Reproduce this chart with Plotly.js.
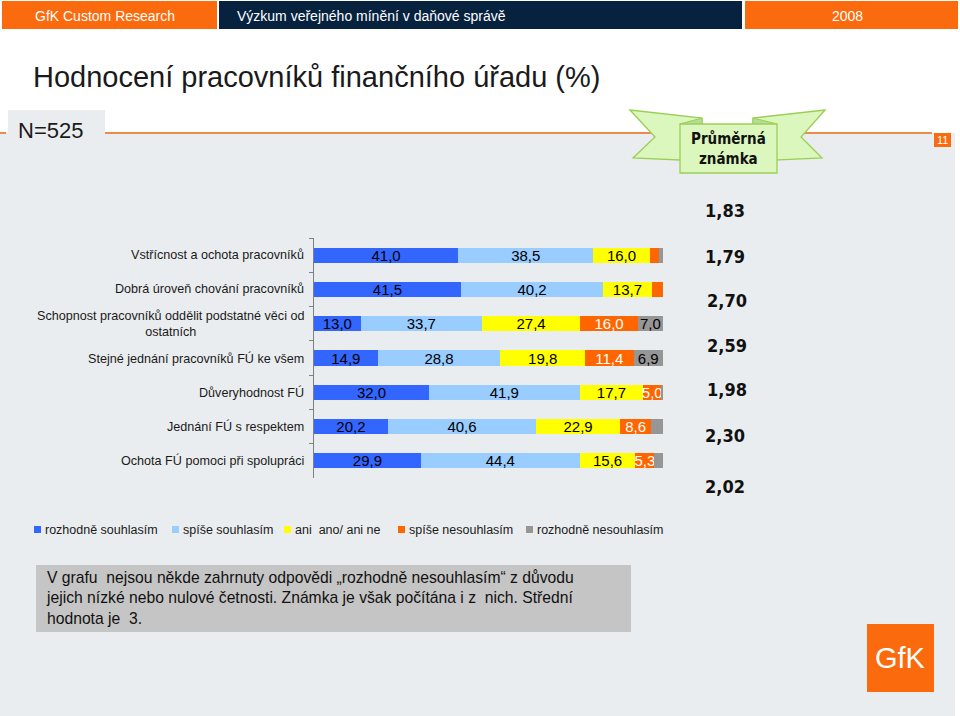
<!DOCTYPE html>
<html>
<head>
<meta charset="utf-8">
<script src="https://cdn.plot.ly/plotly-3.0.1.min.js"></script>
<style>
  html, body { margin: 0; padding: 0; background: #ffffff; }
  #chart { width: 960px; height: 716px; }
</style>
</head>
<body>
<div id="chart"></div>
<script>
// ---------------- DATA ----------------
const categories = [
  'Vstřícnost a ochota pracovníků',
  'Dobrá úroveň chování pracovníků',
  'Schopnost pracovníků oddělit podstatné věci od<br>ostatních',
  'Stejné jednání pracovníků FÚ ke všem',
  'Důveryhodnost FÚ',
  'Jednání FÚ s respektem',
  'Ochota FÚ pomoci při spolupráci'
];
const seriesNames = ['rozhodně souhlasím', 'spíše souhlasím', 'ani  ano/ ani ne', 'spíše nesouhlasím', 'rozhodně nesouhlasím'];
const rozhodneSouhlasim   = [41.0, 41.5, 13.0, 14.9, 32.0, 20.2, 29.9];
const spiseSouhlasim      = [38.5, 40.2, 33.7, 28.8, 41.9, 40.6, 44.4];
const aniAnoAniNe         = [16.0, 13.7, 27.4, 19.8, 17.7, 22.9, 15.6];
const spiseNesouhlasim    = [2.7, 3.2, 16.0, 11.4, 5.0, 8.6, 5.3];
const rozhodneNesouhlasim = [1.1, 0.0, 7.0, 6.9, 0.5, 3.2, 2.4];
const prumernaZnamka = ['1,83', '1,79', '2,70', '2,59', '1,98', '2,30', '2,02'];

// ---------------- STYLE / LAYOUT ----------------
const seriesValues = [rozhodneSouhlasim, spiseSouhlasim, aniAnoAniNe, spiseNesouhlasim, rozhodneNesouhlasim];
const seriesColors = ['#3366ff', '#99ccff', '#ffff00', '#ff6600', '#969696'];
const labelColors  = ['#000000', '#000000', '#000000', '#ffffff', '#000000'];
const FONT = 'Liberation Sans, Arial, sans-serif';
const BOLD = 'DejaVu Sans Condensed, DejaVu Sans, sans-serif';

// plot area in pixels
const L = 314, R = 663, T = 238, B = 478;
const W = R - L, H = B - T;
const px = x => (x - L) / W;
const py = y => (B - y) / H;

function rect(x0, y0, x1, y1, fill, line) {
  return { type: 'rect', xref: 'paper', yref: 'paper', layer: 'below',
    x0: px(x0), x1: px(x1), y0: py(y1), y1: py(y0),
    fillcolor: fill, line: line || { width: 0 } };
}
function poly(pts, fill, line) {
  const d = pts.map((p, i) => (i ? 'L' : 'M') + px(p[0]).toFixed(5) + ',' + py(p[1]).toFixed(5)).join(' ') + ' Z';
  return { type: 'path', xref: 'paper', yref: 'paper', layer: 'below', path: d,
    fillcolor: fill, line: line || { width: 0 } };
}
function text(x, y, t, size, color, opts) {
  return Object.assign({ xref: 'paper', yref: 'paper', x: px(x), y: py(y), text: t,
    showarrow: false, xanchor: 'left', yanchor: 'middle',
    font: { family: FONT, size: size, color: color } }, opts || {});
}

// traces
const traces = seriesValues.map((vals, i) => ({
  type: 'bar', orientation: 'h', name: seriesNames[i],
  y: categories, x: vals,
  marker: { color: seriesColors[i], line: { width: 0 } },
  text: vals.map(v => v >= 4 ? v.toFixed(1).replace('.', ',') : ''),
  textposition: 'inside', insidetextanchor: 'middle', constraintext: 'none',
  textfont: { family: FONT, size: 15, color: labelColors[i] },
  hoverinfo: 'name+x'
}));

// shapes
const green = '#dcf7bd', greenLine = '#9acf55', greenDark = '#b7dc98';
const shapes = [
  rect(2, 1, 217, 29, '#fb6a0c'),
  rect(219, 1, 742, 29, '#06223f'),
  rect(745, 1, 958, 29, '#fb6a0c'),
  rect(0, 133, 955, 716, '#eaedef'),
  rect(8, 110, 105, 133, '#eaedef'),
  { type: 'line', xref: 'paper', yref: 'paper', layer: 'below', x0: px(105), x1: px(932), y0: py(133), y1: py(133), line: { color: '#f0894c', width: 2 } },
  { type: 'line', xref: 'paper', yref: 'paper', layer: 'below', x0: px(0), x1: px(6), y0: py(133), y1: py(133), line: { color: '#f0894c', width: 2 } },
  rect(934, 133, 951, 147, '#fb6a0c'),
  // ribbon tails
  poly([[630, 110], [702, 118], [702, 161], [633, 158], [655, 137]], green, { color: greenLine, width: 1.3 }),
  poly([[825, 110], [753, 118], [753, 161], [822, 158], [801, 137]], green, { color: greenLine, width: 1.3 }),
  poly([[680, 124], [702, 118], [702, 128]], greenDark, { color: greenLine, width: 1 }),
  poly([[777, 124], [753, 118], [753, 128]], greenDark, { color: greenLine, width: 1 }),
  rect(680, 124, 777, 173, green, { color: greenLine, width: 1.3 }),
  // note box
  rect(36, 565, 631, 632, '#c5c5c5'),
  // GfK logo
  rect(867, 624, 934, 692, '#fb6a0c')
];

// annotations
const annotations = [
  text(33, 16, 'GfK Custom Research', 14, '#ffffff'),
  text(235, 16, 'Výzkum veřejného mínění v daňové správě', 14, '#ffffff'),
  text(847, 16, '2008', 14, '#ffffff', { xanchor: 'center' }),
  text(31, 77, 'Hodnocení pracovníků finančního úřadu (%)', 29, '#1a1a1a'),
  text(16, 130, 'N=525', 22, '#1a1a1a'),
  text(942.5, 140, '11', 11, '#ffffff', { xanchor: 'center' }),
  text(728.5, 149, 'Průměrná<br>známka', 15, '#111111',
    { xanchor: 'center', align: 'center', font: { family: BOLD, size: 15, color: '#111111', weight: 'bold' } }),
  text(900, 658, 'GfK', 29, '#ffffff', { xanchor: 'center' }),
  text(44, 598, 'V grafu  nejsou někde zahrnuty odpovědi „rozhodně nesouhlasím“ z důvodu<br>jejich nízké nebo nulové četnosti. Známka je však počítána i z  nich. Střední<br>hodnota je  3.',
    15.7, '#111111', { align: 'left' })
];
// category labels (centered multi-line, right anchored)
categories.forEach(c => annotations.push({
  xref: 'paper', yref: 'y', x: px(306), y: c, text: c, showarrow: false,
  xanchor: 'right', yanchor: 'middle', align: 'center',
  font: { family: FONT, size: 12.6, color: '#1a1a1a' }
}));
// average grades
const gradeY = [210, 256, 300, 345, 389, 435, 486];
const gradeX = [725, 725, 727, 727, 727, 725, 725];
prumernaZnamka.forEach((g, i) => annotations.push(
  text(gradeX[i], gradeY[i], g, 18, '#111111',
    { xanchor: 'center', font: { family: BOLD, size: 18, color: '#111111', weight: 'bold' } })));
// legend
const legendX = [34, 172, 284, 398, 526];
seriesNames.forEach((n, i) => {
  shapes.push(rect(legendX[i], 526, legendX[i] + 7, 533, seriesColors[i]));
  annotations.push(text(legendX[i] + 9, 530, n, 12.5, '#1a1a1a'));
});

const layout = {
  width: 960, height: 716,
  margin: { l: L, r: 960 - R, t: T, b: 716 - B, pad: 0 },
  paper_bgcolor: '#ffffff', plot_bgcolor: 'rgba(0,0,0,0)',
  barmode: 'stack', barnorm: 'percent', bargap: 0.56,
  showlegend: false,
  xaxis: { range: [0, 100], visible: false, fixedrange: true },
  yaxis: { type: 'category', categoryorder: 'array', categoryarray: categories,
    autorange: 'reversed', showticklabels: false, showgrid: false, zeroline: false,
    showline: true, linecolor: '#808080', linewidth: 1,
    ticks: 'outside', tickson: 'boundaries', ticklen: 4, tickcolor: '#808080', fixedrange: true },
  shapes: shapes,
  annotations: annotations,
  font: { family: FONT }
};

Plotly.newPlot('chart', traces, layout, { displayModeBar: false, staticPlot: true });
</script>
</body>
</html>
